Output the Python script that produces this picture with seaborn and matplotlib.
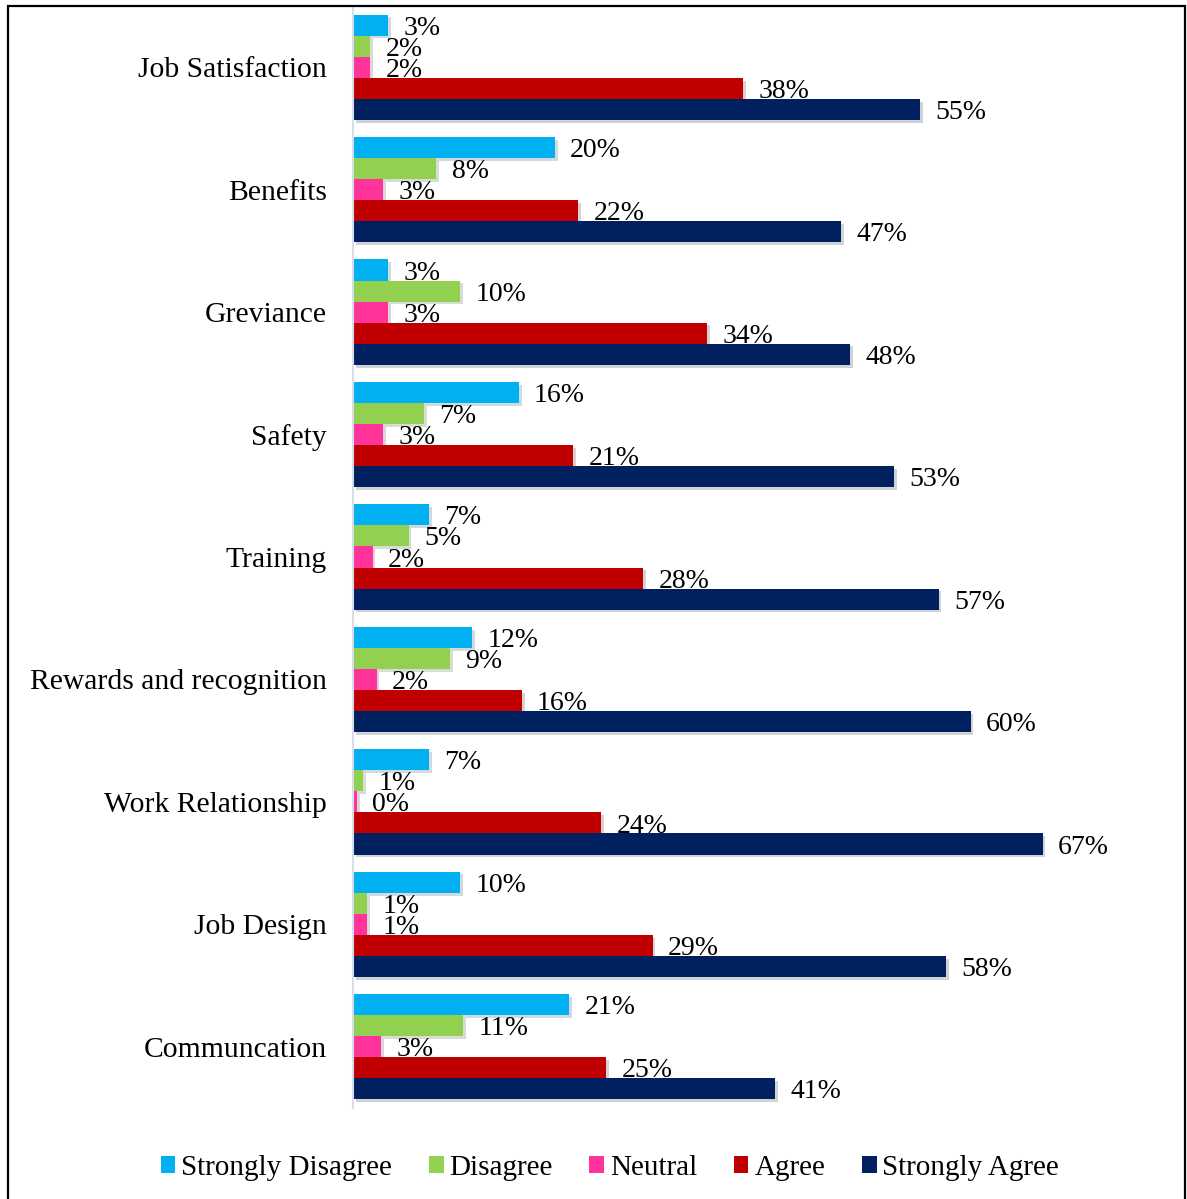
import matplotlib
matplotlib.use("Agg")
import matplotlib.pyplot as plt
import matplotlib.patheffects as pe
from matplotlib.patches import Rectangle
import seaborn as sns
import pandas as pd

categories = ["Job Satisfaction", "Benefits", "Greviance", "Safety", "Training",
              "Rewards and recognition", "Work Relationship", "Job Design", "Communcation"]
series = ["Strongly Disagree", "Disagree", "Neutral", "Agree", "Strongly Agree"]
strongly_disagree = [3.4, 19.6, 3.4, 16.1, 7.4, 11.6, 7.4, 10.4, 21.0]
disagree = [1.7, 8.1, 10.4, 6.9, 5.4, 9.4, 1.0, 1.4, 10.7]
neutral = [1.7, 2.9, 3.4, 2.9, 1.9, 2.3, 0.4, 1.4, 2.7]
agree = [37.9, 21.9, 34.4, 21.4, 28.2, 16.4, 24.1, 29.1, 24.6]
strongly_agree = [55.1, 47.4, 48.3, 52.6, 56.9, 60.0, 67.0, 57.6, 41.0]
colors = ["#00B0F0", "#92D050", "#FF3399", "#C00000", "#002060"]

values = [strongly_disagree, disagree, neutral, agree, strongly_agree]
rows = []
for s, vals in zip(series, values):
    for c, v in zip(categories, vals):
        rows.append({"Category": c, "Response": s, "Value": v})
df = pd.DataFrame(rows)

sns.set_theme(style="white")
plt.rcParams["font.family"] = ["Liberation Serif", "DejaVu Serif"]

fig = plt.figure(figsize=(11.87, 11.99), dpi=100)
ax = fig.add_axes([353 / 1187, 1 - 1108 / 1199, (1125 - 353) / 1187, (1108 - 6) / 1199])

sns.barplot(data=df, y="Category", x="Value", hue="Response", order=categories,
            hue_order=series, palette=colors, orient="h", width=0.86,
            saturation=1, ax=ax, legend=True, linewidth=0)

for cont in ax.containers:
    for bar in cont:
        bar.set_linewidth(0)
        bar.set_path_effects([pe.SimplePatchShadow(offset=(2, -2), alpha=0.18),
                              pe.Normal()])
    texts = ax.bar_label(cont, fmt=lambda v: f"{v:.0f}%", padding=11, fontsize=20,
                         color="black")
    for t in texts:
        t.xyann = (11, -2.2)

ax.set_xlim(0, 75)
ax.set_xlabel("")
ax.set_ylabel("")
ax.set_xticks([])
ax.tick_params(axis="y", left=False, length=0, pad=19, labelsize=21.3, labelcolor="black")
for side in ["top", "right", "bottom"]:
    ax.spines[side].set_visible(False)
ax.spines["left"].set_color("#D6DEEC")
ax.spines["left"].set_linewidth(1.5)

handles, labels = ax.get_legend_handles_labels()
ax.get_legend().remove()
leg = fig.legend(handles, labels, loc="center", bbox_to_anchor=(610 / 1187, 1 - 1168 / 1199),
                 ncol=5, frameon=False, fontsize=21, handlelength=0.5, handleheight=0.5,
                 handletextpad=0.2, columnspacing=1.26)
for t in leg.get_texts():
    t.set_color("black")
for h in leg.legend_handles:
    h.set_linewidth(0)

fig.patches.append(Rectangle((8 / 1187, -0.05), (1185 - 8) / 1187, 1.05 - 6 / 1199,
                             transform=fig.transFigure, fill=False, edgecolor="black",
                             linewidth=1.6, clip_on=False))

fig.savefig("out.png", dpi=100)
